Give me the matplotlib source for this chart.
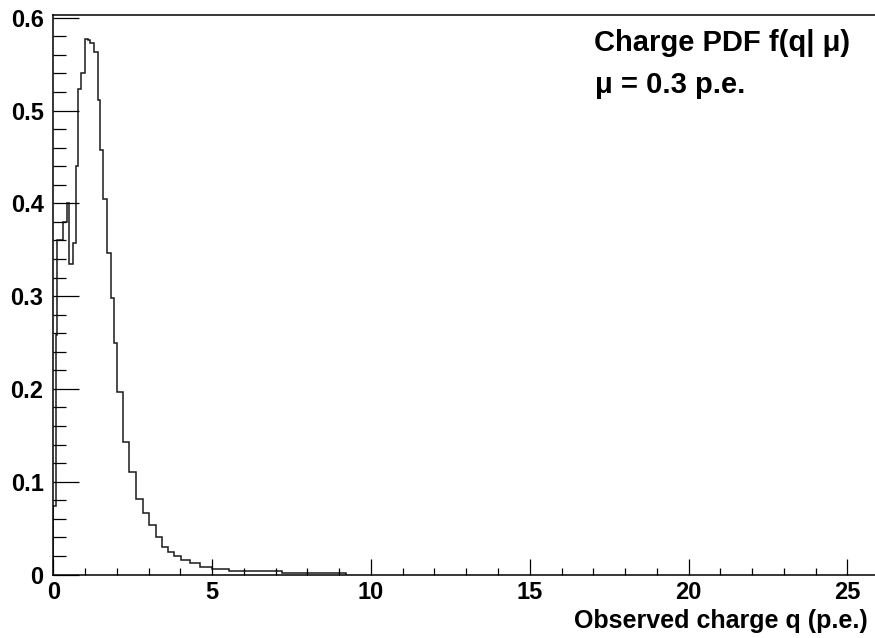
import matplotlib
matplotlib.use("Agg")
import matplotlib.pyplot as plt
from matplotlib.ticker import MultipleLocator

# bin edges (p.e.) and pdf values
edges = [0.0, 0.08, 0.13, 0.31, 0.42, 0.50, 0.61, 0.71, 0.79, 0.86, 1.00,
         1.10, 1.17, 1.28, 1.41, 1.48, 1.58, 1.70, 1.81, 1.90, 2.00, 2.18,
         2.39, 2.60, 2.81, 3.01, 3.22, 3.42, 3.61, 3.81, 4.03, 4.31, 4.63,
         5.00, 5.52, 7.20, 9.23]
pdf = [0.074, 0.258, 0.360, 0.380, 0.400, 0.335, 0.357, 0.440, 0.523, 0.541,
       0.577, 0.576, 0.573, 0.563, 0.511, 0.457, 0.405, 0.346, 0.298, 0.249,
       0.197, 0.143, 0.111, 0.081, 0.066, 0.053, 0.040, 0.030, 0.024, 0.020,
       0.016, 0.012, 0.0084, 0.0063, 0.0041, 0.0019]

plt.rcParams["font.family"] = ["Liberation Sans", "DejaVu Sans"]
plt.rcParams["font.weight"] = "bold"

fig = plt.figure(figsize=(8.75, 6.38), dpi=100)
ax = fig.add_axes([53.3 / 875, 1 - 574.5 / 638, 1 - 53.3 / 875, (574.5 - 15) / 638])

ax.stairs(pdf, edges, color="#1a1a1a", lw=1.1)

ax.set_xlim(0, 25.87)
ax.set_ylim(0, 0.603)
ax.spines["right"].set_visible(False)
for s in ("left", "bottom", "top"):
    ax.spines[s].set_linewidth(1.1)

ax.xaxis.set_major_locator(MultipleLocator(5))
ax.xaxis.set_minor_locator(MultipleLocator(1))
ax.yaxis.set_major_locator(MultipleLocator(0.1))
ax.yaxis.set_minor_locator(MultipleLocator(0.02))
ax.tick_params(axis="x", which="major", direction="in", length=11.5, width=0.9, pad=5, labelsize=17)
ax.tick_params(axis="x", which="minor", direction="in", length=5.4, width=0.9)
ax.tick_params(axis="y", which="major", direction="in", length=18.7, width=0.9, pad=7, labelsize=17)
ax.tick_params(axis="y", which="minor", direction="in", length=9.4, width=0.9)
ax.set_xticklabels([f"{v:g}" for v in ax.get_xticks()])
ax.set_yticklabels([f"{v:g}" for v in ax.get_yticks()])

fig.text(868 / 875, 1 - 628 / 638, "Observed charge q (p.e.)", ha="right", va="baseline",
         fontsize=18, fontweight="bold")
fig.text(722 / 875, 1 - 51 / 638, "Charge PDF f(q| μ)", ha="center", va="baseline",
         fontsize=21, fontweight="bold")
fig.text(670 / 875, 1 - 93 / 638, "μ = 0.3 p.e.", ha="center", va="baseline",
         fontsize=21, fontweight="bold")

fig.savefig("out.png", dpi=100)
